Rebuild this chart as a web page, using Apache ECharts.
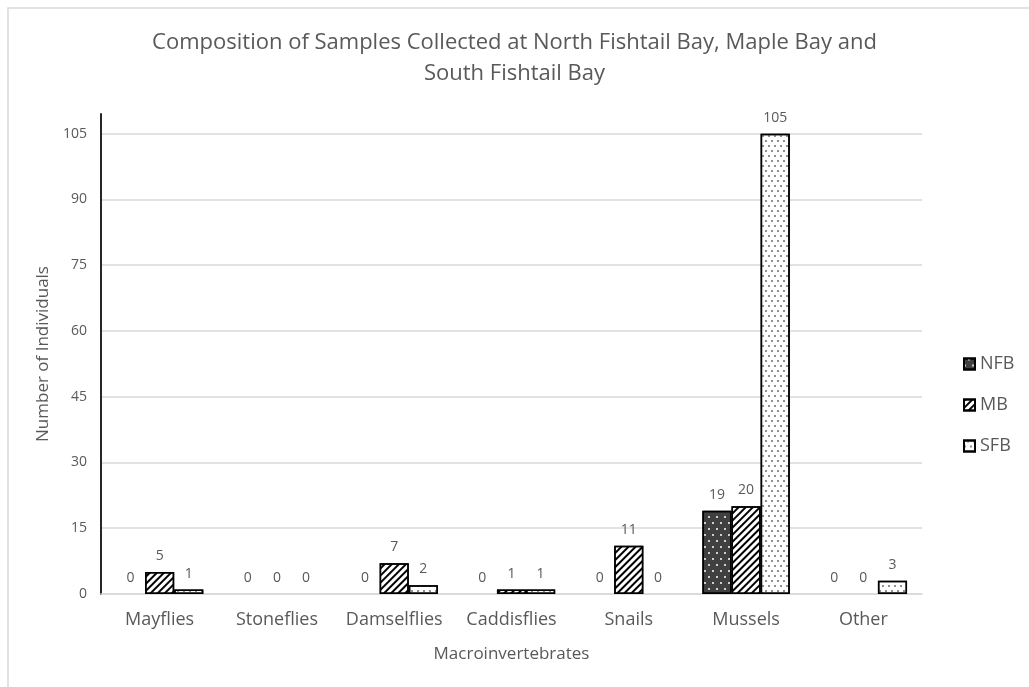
<!DOCTYPE html>
<html>
<head>
<meta charset="utf-8">
<script src="https://cdn.jsdelivr.net/npm/echarts@6/dist/echarts.min.js"></script>
<style>html,body{margin:0;padding:0;background:#fff;}#c{width:1029px;height:687px;}</style>
</head>
<body>
<div id="c"></div>
<script>
const categories = ['Mayflies', 'Stoneflies', 'Damselflies', 'Caddisflies', 'Snails', 'Mussels', 'Other'];
const seriesNames = ['NFB', 'MB', 'SFB'];
const nfb = [0, 0, 0, 0, 0, 19, 0];
const mb = [5, 0, 7, 1, 11, 20, 0];
const sfb = [1, 0, 2, 1, 0, 105, 3];
const yTicks = [0, 15, 30, 45, 60, 75, 90, 105];

const FONT = '"Open Sans", sans-serif';
const chart = echarts.init(document.getElementById('c'), null, {renderer: 'canvas'});

const dotsWhite = {symbol: 'circle', symbolSize: 1, color: '#ffffff', dashArrayX: [[1.6, 5.4], [0, 3.5, 1.6, 1.9]], dashArrayY: [1.6, 3.4], rotation: 0};
const hatch = {symbol: 'rect', symbolSize: 1, color: '#000000', dashArrayX: [1, 0], dashArrayY: [1.8, 2.8], rotation: -Math.PI / 4};
const dotsGray = {symbol: 'circle', symbolSize: 1, color: '#6b6b6b', dashArrayX: [[1.5, 3.5], [0, 2.5, 1.5, 1]], dashArrayY: [1.5, 2.5], rotation: 0};

function toData(arr) {
  return arr.map(v => (v === 0 ? {value: v, itemStyle: {borderWidth: 0, opacity: 0}} : v));
}

function mk(name, data, color, decal) {
  return {
    name: name, type: 'bar', data: toData(data), barGap: '0%', barCategoryGap: '25.5%',
    itemStyle: {color: color, borderColor: '#000', borderWidth: 1.5, decal: decal},
    label: {show: true, position: 'top', distance: 9, color: '#595959', fontSize: 14, fontFamily: FONT, opacity: 1}
  };
}

const splitColors = yTicks.map(() => '#d9d9d9').concat(['rgba(0,0,0,0)']);

chart.setOption({
  animation: false,
  backgroundColor: '#fff',
  title: {
    text: 'Composition of Samples Collected at North Fishtail Bay, Maple Bay and\nSouth Fishtail Bay',
    left: 'center', top: 22,
    textStyle: {color: '#595959', fontSize: 22, fontWeight: 'normal', fontFamily: FONT, lineHeight: 31}
  },
  graphic: [{type: 'rect', shape: {x: 8, y: 8, width: 1060, height: 720}, style: {fill: 'none', stroke: '#d9d9d9', lineWidth: 1.5}, silent: true}],
  legend: {
    orient: 'vertical', left: 958, top: 350, itemGap: 23, itemWidth: 11, itemHeight: 11, icon: 'rect',
    textStyle: {color: '#595959', fontSize: 18, fontFamily: FONT},
    data: seriesNames
  },
  grid: {left: 101, right: 107, top: 114, bottom: 93, containLabel: false},
  xAxis: {
    type: 'category', data: categories,
    name: 'Macroinvertebrates', nameLocation: 'middle', nameGap: 52,
    nameTextStyle: {color: '#595959', fontSize: 17, fontFamily: FONT},
    axisLine: {lineStyle: {color: '#d9d9d9', width: 1.5}},
    axisTick: {show: false},
    axisLabel: {color: '#595959', fontSize: 18, fontFamily: FONT, margin: 17, interval: 0, hideOverlap: false}
  },
  yAxis: {
    type: 'value', min: 0, max: 109.5, interval: 15,
    name: 'Number of Individuals', nameLocation: 'middle', nameGap: 46,
    nameTextStyle: {color: '#595959', fontSize: 17, fontFamily: FONT},
    axisLine: {show: true, lineStyle: {color: '#262626', width: 2}},
    axisTick: {show: false},
    axisLabel: {color: '#595959', fontSize: 14, fontFamily: FONT, margin: 14,
      formatter: v => (yTicks.indexOf(v) >= 0 ? String(v) : '')},
    splitLine: {show: true, lineStyle: {color: splitColors, width: 1.5}}
  },
  series: [
    mk(seriesNames[0], nfb, '#404040', dotsWhite),
    mk(seriesNames[1], mb, '#ffffff', hatch),
    mk(seriesNames[2], sfb, '#ffffff', dotsGray)
  ]
});
</script>
</body>
</html>
